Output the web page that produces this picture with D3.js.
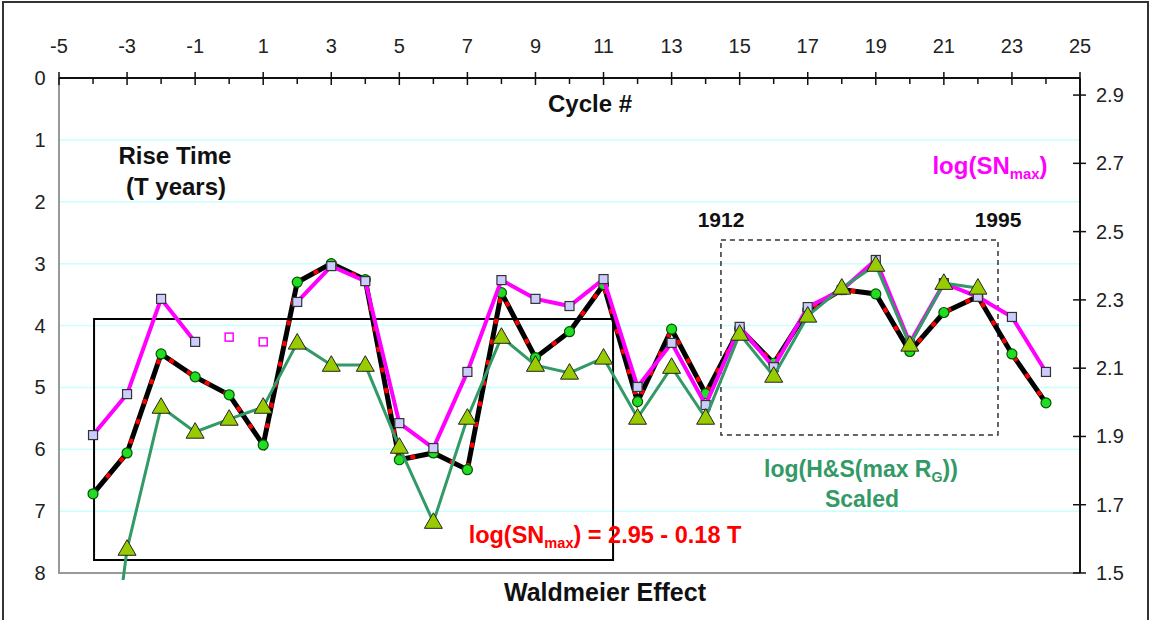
<!DOCTYPE html>
<html>
<head>
<meta charset="utf-8">
<script src="https://cdn.jsdelivr.net/npm/d3@7"></script>
<style>
  body { margin: 0; background: #fff; }
  svg { display: block; font-family: "Liberation Sans", Arial, sans-serif; }
</style>
</head>
<body>
<div id="chart"></div>
<script>
const width = 1153;
const height = 620;

// cycle numbers, -4 .. 24
const cycles = d3.range(-4, 25);

// rise time T (years), left axis
const riseTime = [6.72, 6.06, 4.46, 4.83, 5.12, 5.93, 3.30, 3.00, 3.26, 6.17, 6.06, 6.33, 3.47, 4.52,
  4.10, 3.34, 5.23, 4.06, 5.10, 4.05, 4.61, 3.75, 3.42, 3.49, 4.42, 3.79, 3.53, 4.46, 5.25];

// log(SNmax), right axis (no value for cycles 0 and 1)
const logSN = [1.904, 2.024, 2.303, 2.177, null, null, 2.294, 2.399, 2.355, 1.939, 1.866, 2.089, 2.358,
  2.303, 2.282, 2.361, 2.045, 2.174, 1.992, 2.221, 2.103, 2.279, 2.329, 2.417, 2.174, 2.349, 2.309,
  2.250, 2.089];

// open squares: estimated log(SNmax) for cycles 0 and 1
const openCycles = [0, 1];
const openLogSN = [2.191, 2.177];

// log(H&S(max RG)) scaled, right axis, cycles -4 .. 22
const hsCycles = d3.range(-4, 23);
const hsScaled = [0.80, 1.570, 1.986, 1.913, 1.951, 1.986, 2.174, 2.109, 2.109, 1.869, 1.649, 1.954,
  2.191, 2.109, 2.086, 2.130, 1.954, 2.103, 1.954, 2.200, 2.077, 2.253, 2.335, 2.402, 2.168, 2.349, 2.335];

const topTicks = d3.range(-5, 26, 2);
const leftTicks = d3.range(0, 9);
const rightTicks = [1.5, 1.7, 1.9, 2.1, 2.3, 2.5, 2.7, 2.9];

const plot = { left: 59, right: 1080, top: 78, bottom: 573 };

const svg = d3
  .select("#chart")
  .append("svg")
  .attr("width", width)
  .attr("height", height);

// outer frame
svg
  .append("rect")
  .attr("x", 3)
  .attr("y", 2)
  .attr("width", 1145)
  .attr("height", 640)
  .attr("fill", "#fff")
  .attr("stroke", "#333")
  .attr("stroke-width", 2);

const x = d3.scaleLinear().domain([-5, 25]).range([plot.left, plot.right]);
const yLeft = d3.scaleLinear().domain([0, 8]).range([plot.top, plot.bottom]);
const yRight = d3.scaleLinear().domain([1.5, 2.95]).range([plot.bottom, plot.top]);

svg
  .append("defs")
  .append("clipPath")
  .attr("id", "clip")
  .append("rect")
  .attr("x", plot.left)
  .attr("y", plot.top)
  .attr("width", plot.right - plot.left)
  .attr("height", plot.bottom - plot.top + 7);

// grid lines
svg
  .append("g")
  .selectAll("line")
  .data(leftTicks.filter((d) => d > 0 && d < 8))
  .enter()
  .append("line")
  .attr("x1", plot.left)
  .attr("x2", plot.right)
  .attr("y1", (d) => yLeft(d))
  .attr("y2", (d) => yLeft(d))
  .attr("stroke", "#c8ffff")
  .attr("stroke-width", 1.5);

// gray left and bottom edges
svg
  .append("path")
  .attr("d", `M${plot.left},${plot.top}V${plot.bottom}H${plot.right}`)
  .attr("fill", "none")
  .attr("stroke", "#999")
  .attr("stroke-width", 2);

// left axis labels (no ticks)
svg
  .append("g")
  .selectAll("text")
  .data(leftTicks)
  .enter()
  .append("text")
  .attr("x", 40)
  .attr("y", (d) => yLeft(d))
  .attr("dy", "0.35em")
  .attr("text-anchor", "middle")
  .attr("font-size", 20)
  .attr("fill", "#222")
  .text((d) => d);

// top axis
const topAxis = svg.append("g").attr("transform", `translate(0, ${plot.top})`);
topAxis
  .append("line")
  .attr("x1", plot.left)
  .attr("x2", plot.right)
  .attr("stroke", "#111")
  .attr("stroke-width", 2);
topAxis
  .selectAll(".major")
  .data(topTicks)
  .enter()
  .append("line")
  .attr("x1", (d) => x(d))
  .attr("x2", (d) => x(d))
  .attr("y1", -6)
  .attr("y2", 7)
  .attr("stroke", "#111")
  .attr("stroke-width", 1.5);
topAxis
  .selectAll(".minor")
  .data(d3.range(-4, 25, 2))
  .enter()
  .append("line")
  .attr("x1", (d) => x(d))
  .attr("x2", (d) => x(d))
  .attr("y1", 0)
  .attr("y2", 6)
  .attr("stroke", "#111")
  .attr("stroke-width", 1.5);
topAxis
  .selectAll("text")
  .data(topTicks)
  .enter()
  .append("text")
  .attr("x", (d) => x(d))
  .attr("y", -25)
  .attr("text-anchor", "middle")
  .attr("font-size", 20)
  .attr("fill", "#222")
  .text((d) => d);

// right axis
const rightAxis = svg.append("g").attr("transform", `translate(${plot.right}, 0)`);
rightAxis
  .append("line")
  .attr("y1", plot.top)
  .attr("y2", plot.bottom)
  .attr("stroke", "#111")
  .attr("stroke-width", 2);
rightAxis
  .selectAll("line.tick")
  .data(rightTicks)
  .enter()
  .append("line")
  .attr("class", "tick")
  .attr("x1", -7)
  .attr("x2", 6)
  .attr("y1", (d) => yRight(d))
  .attr("y2", (d) => yRight(d))
  .attr("stroke", "#111")
  .attr("stroke-width", 1.5);
rightAxis
  .selectAll("text")
  .data(rightTicks)
  .enter()
  .append("text")
  .attr("x", 16)
  .attr("y", (d) => yRight(d))
  .attr("dy", "0.35em")
  .attr("font-size", 20)
  .attr("fill", "#222")
  .text((d) => d.toFixed(1));

// annotation boxes
svg
  .append("rect")
  .attr("x", x(-3.97))
  .attr("y", yLeft(3.895))
  .attr("width", x(11.28) - x(-3.97))
  .attr("height", yLeft(7.79) - yLeft(3.895))
  .attr("fill", "none")
  .attr("stroke", "#000")
  .attr("stroke-width", 2);
svg
  .append("rect")
  .attr("x", x(14.45))
  .attr("y", yLeft(2.62))
  .attr("width", x(22.59) - x(14.45))
  .attr("height", yLeft(5.77) - yLeft(2.62))
  .attr("fill", "none")
  .attr("stroke", "#333")
  .attr("stroke-width", 1.5)
  .attr("stroke-dasharray", "5,4");

const series = svg.append("g").attr("clip-path", "url(#clip)");

// rise time: black line, red dashed fit, green markers
const tLine = d3
  .line()
  .x((d, i) => x(cycles[i]))
  .y((d) => yLeft(d));
series
  .append("path")
  .datum(riseTime)
  .attr("d", tLine)
  .attr("fill", "none")
  .attr("stroke", "#000")
  .attr("stroke-width", 5);
series
  .append("path")
  .datum(riseTime)
  .attr("d", tLine)
  .attr("fill", "none")
  .attr("stroke", "#ff0000")
  .attr("stroke-width", 4)
  .attr("stroke-dasharray", "5,16");
series
  .append("g")
  .selectAll("circle")
  .data(riseTime)
  .enter()
  .append("circle")
  .attr("cx", (d, i) => x(cycles[i]))
  .attr("cy", (d) => yLeft(d))
  .attr("r", 5)
  .attr("fill", "#22dd22")
  .attr("stroke", "#005500")
  .attr("stroke-width", 1.2);

// log(SNmax): magenta line with lavender squares
const snLine = d3
  .line()
  .defined((d) => d !== null)
  .x((d, i) => x(cycles[i]))
  .y((d) => yRight(d));
series
  .append("path")
  .datum(logSN)
  .attr("d", snLine)
  .attr("fill", "none")
  .attr("stroke", "#ff00ff")
  .attr("stroke-width", 4);
series
  .append("g")
  .selectAll("rect")
  .data(cycles.map((c, i) => [c, logSN[i]]).filter((d) => d[1] !== null))
  .enter()
  .append("rect")
  .attr("x", (d) => x(d[0]) - 4.5)
  .attr("y", (d) => yRight(d[1]) - 4.5)
  .attr("width", 9)
  .attr("height", 9)
  .attr("fill", "#ccccff")
  .attr("stroke", "#333")
  .attr("stroke-width", 1.2);
series
  .append("g")
  .selectAll("rect")
  .data(openLogSN)
  .enter()
  .append("rect")
  .attr("x", (d, i) => x(openCycles[i]) - 4)
  .attr("y", (d) => yRight(d) - 4)
  .attr("width", 8)
  .attr("height", 8)
  .attr("fill", "#fff")
  .attr("stroke", "#ff00ff")
  .attr("stroke-width", 1.5);

// H&S scaled: teal line with olive triangles
series
  .append("path")
  .datum(hsScaled)
  .attr("d", d3.line().x((d, i) => x(hsCycles[i])).y((d) => yRight(d)))
  .attr("fill", "none")
  .attr("stroke", "#339966")
  .attr("stroke-width", 3);
series
  .append("g")
  .selectAll("path")
  .data(hsCycles.map((c, i) => [c, hsScaled[i]]).filter((d) => d[1] >= 1.5))
  .enter()
  .append("path")
  .attr("d", d3.symbol(d3.symbolTriangle, 140))
  .attr("transform", (d) => `translate(${x(d[0])}, ${yRight(d[1]) + 1})`)
  .attr("fill", "#99cc00")
  .attr("stroke", "#222")
  .attr("stroke-width", 1);

// text labels
function label(txt, tx, ty, size, color) {
  return svg
    .append("text")
    .attr("x", tx)
    .attr("y", ty)
    .attr("text-anchor", "middle")
    .attr("font-size", size)
    .attr("font-weight", "bold")
    .attr("fill", color)
    .text(txt);
}

label("Cycle #", 590, 112, 24, "#111");
label("Rise Time", 175, 164, 24, "#111");
label("(T years)", 176, 195, 24, "#111");
label("1912", 721, 227, 21, "#111");
label("1995", 998, 227, 21, "#111");
label("Waldmeier Effect", 605, 601, 25, "#111");

function subLabel(pre, sub, post, tx, ty, size, color) {
  const t = label(pre, tx, ty, size, color);
  t.append("tspan").attr("font-size", size * 0.62).attr("dy", 5).text(sub);
  t.append("tspan").attr("dy", -5).text(post);
  return t;
}

subLabel("log(SN", "max", ")", 990, 174, 24, "#ff00ff");
subLabel("log(SN", "max", ") = 2.95 - 0.18 T", 605, 543, 23.5, "#ff0000");
subLabel("log(H&S(max R", "G", "))", 861, 477, 23, "#339966");
label("Scaled", 862, 507, 23, "#339966");
</script>
</body>
</html>
